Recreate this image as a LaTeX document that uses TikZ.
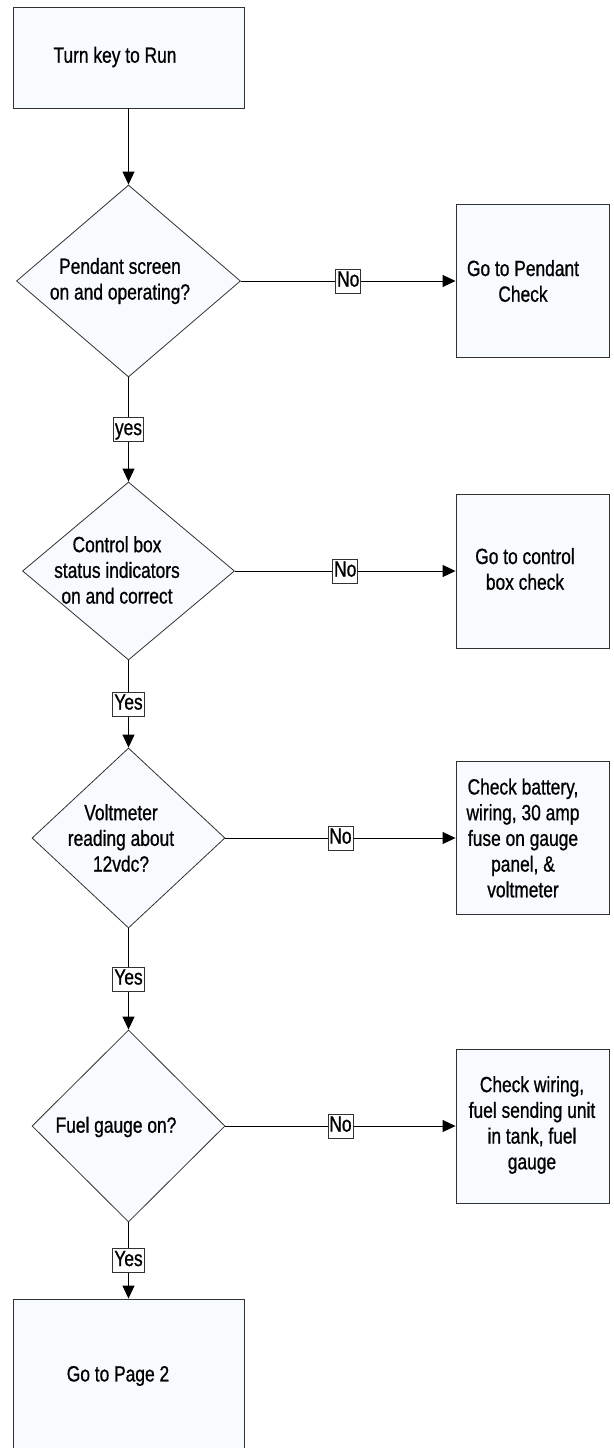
\documentclass[tikz,border=0pt]{standalone}
\usepackage{fontspec}
\setmainfont{Liberation Sans}[FakeStretch=0.79, FakeBold=0.8]
\usepackage{tikz}
\usetikzlibrary{arrows.meta,shapes.geometric}
\definecolor{boxfill}{RGB}{247,250,255}
\definecolor{edgegray}{RGB}{50,50,50}

\begin{document}
\begin{tikzpicture}[x=1pt,y=-1pt,
    font=\fontsize{22}{25.7}\selectfont,
    stepbox/.style={draw=edgegray, fill=boxfill, line width=0.9pt, inner sep=0pt},
    decision/.style={diamond, draw=edgegray, fill=boxfill, line width=0.8pt, inner sep=0pt},
    txt/.style={align=center, inner sep=0pt},
    tag/.style={draw=edgegray, fill=white, line width=0.7pt, inner xsep=1.5pt, inner ysep=1.7pt,
        text height=15.8pt, text depth=4.7pt},
    flow/.style={line width=0.9pt, -{Triangle[length=13pt,width=12pt]}}]
    \useasboundingbox (0,0) rectangle (613,1448);
    \clip (0,0) rectangle (613,1448);

    % left column
    \node[stepbox, minimum width=231pt, minimum height=101pt] (start) at (128.5,57.5) {};
    \node[decision, minimum width=224pt, minimum height=192pt] (d1) at (128.5,281) {};
    \node[decision, minimum width=212pt, minimum height=178pt] (d2) at (128.5,571) {};
    \node[decision, minimum width=193pt, minimum height=180pt] (d3) at (128.5,838) {};
    \node[decision, minimum width=193pt, minimum height=192pt] (d4) at (128.5,1126) {};
    \node[stepbox, minimum width=231pt, minimum height=170pt] (page2) at (128.5,1384) {};

    % right column
    \node[stepbox, minimum width=153pt, minimum height=153pt] (pendant) at (532.5,281) {};
    \node[stepbox, minimum width=153pt, minimum height=154pt] (ctrlbox) at (532.5,571) {};
    \node[stepbox, minimum width=153pt, minimum height=153pt] (battery) at (532.5,838) {};
    \node[stepbox, minimum width=153pt, minimum height=154pt] (fuel) at (532.5,1126) {};

    % texts
    \node[txt] (start-t) at (115,57) {Turn key to Run};
    \node[txt] (d1-t) at (120,281) {Pendant screen\\on and operating?};
    \node[txt] (d2-t) at (117,570) {Control box\\status indicators\\on and correct};
    \node[txt] (d3-t) at (121,838) {Voltmeter\\reading about\\12vdc?};
    \node[txt] (d4-t) at (116,1127) {Fuel gauge on?};
    \node[txt] (page2-t) at (118,1376) {Go to Page 2};
    \node[txt] (pendant-t) at (523,281) {Go to Pendant\\Check};
    \node[txt] (ctrlbox-t) at (525,569) {Go to control\\box check};
    \node[txt] (battery-t) at (523,838) {Check battery,\\wiring, 30 amp\\fuse on gauge\\panel, \&\\voltmeter};
    \node[txt] (fuel-t) at (532,1125) {Check wiring,\\fuel sending unit\\in tank, fuel\\gauge};

    % connectors
    \draw[flow] (start) -- (d1);
    \draw[flow] (d1) -- node[tag] (yes1) {yes} (d2);
    \draw[flow] (d2) -- node[tag] (yes2) {Yes} (d3);
    \draw[flow] (d3) -- node[tag] (yes3) {Yes} (d4);
    \draw[flow] (d4) -- node[tag] (yes4) {Yes} (page2);
    \draw[flow] (d1) -- node[tag] (no1) {No} (pendant);
    \draw[flow] (d2) -- node[tag] (no2) {No} (ctrlbox);
    \draw[flow] (d3) -- node[tag] (no3) {No} (battery);
    \draw[flow] (d4) -- node[tag] (no4) {No} (fuel);
\end{tikzpicture}
\end{document}
